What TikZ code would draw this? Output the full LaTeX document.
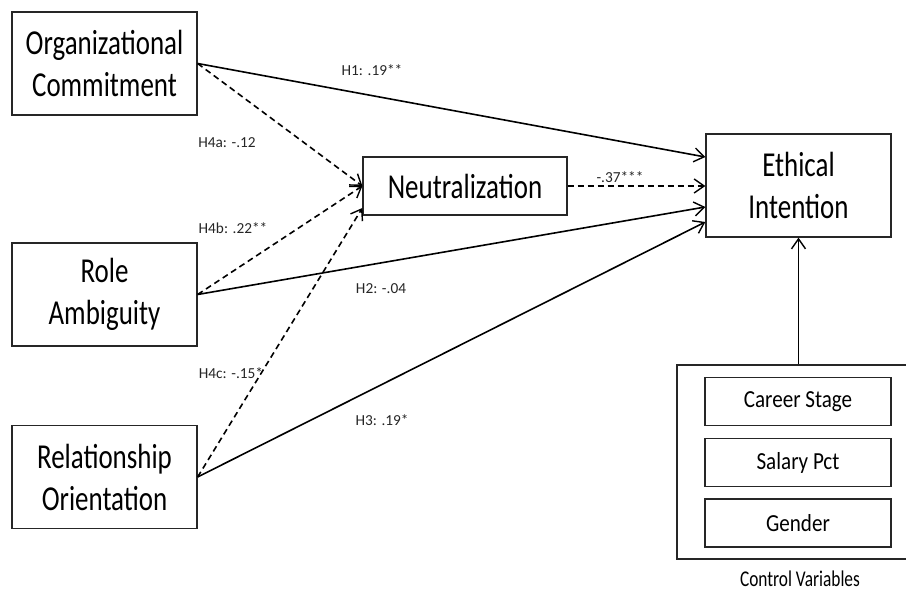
\documentclass[tikz,border=0pt]{standalone}
\usepackage{fontspec}
\setmainfont{Carlito}
\newfontfamily\boxfont[FakeStretch=0.77]{Carlito}
\newfontfamily\ctrlfont[FakeStretch=0.86]{Carlito}
\usetikzlibrary{calc}
\usetikzlibrary{arrows.meta}

\begin{document}
\begin{tikzpicture}[x=1pt,y=-1pt,
	var/.style={draw=black!85,line width=1.3pt,minimum width=185pt,minimum height=103pt,inner sep=0pt,align=center,font=\boxfont\fontsize{35}{42}\selectfont},
	ctrl/.style={draw=black!85,line width=1.2pt,minimum width=186pt,minimum height=48pt,inner sep=0pt,font=\ctrlfont\fontsize{24.5}{29}\selectfont},
	link/.style={line width=1.6pt,-{Straight Barb[length=10pt,width=14pt,line width=1.4pt]}},
	dlink/.style={link,dash pattern=on 6pt off 4pt},
	coef/.style={font=\fontsize{15.3}{18}\selectfont,text=black!85,inner sep=0pt}]
	\useasboundingbox (0,0) rectangle (906,593);
	\clip (0,0) rectangle (906,593);
	% constructs
	\node[var] (oc) at (104.5,63.5) {Organizational\\Commitment};
	\node[var] (ra) at (104.5,294.5) {Role\\Ambiguity};
	\node[var] (ro) at (104.5,477) {Relationship\\Orientation};
	\node[var,minimum width=204pt,minimum height=58pt] (neut) at (465,186) {Neutralization};
	\node[var] (ei) at (798.5,185.5) {Ethical\\Intention};
	% controls
	\node[draw=black!85,line width=1.2pt,minimum width=253pt,minimum height=194pt] (ctrlbox) at (803.5,462) {};
	\node[ctrl] (career) at (798,401.5) {Career Stage};
	\node[ctrl] (salary) at (798,462.5) {Salary Pct};
	\node[ctrl] (gender) at (798,523) {Gender};
	\node[font=\boxfont\fontsize{22.5}{26}\selectfont,inner sep=0pt] (ctrllabel) at (800,579) {Control Variables};
	% paths
	\draw[link] (oc.east) -- ($(ei.west)+(0,-28.5)$);
	\draw[dlink] (oc.east) -- (neut.west);
	\draw[dlink] (ra.east) -- (neut.west);
	\draw[link] (ra.east) -- ($(ei.west)+(0,21.5)$);
	\draw[dlink] (ro.east) -- ($(neut.west)+(0,22)$);
	\draw[link] (ro.east) -- ($(ei.west)+(0,36.5)$);
	\draw[dlink] (neut.east) -- (neut.east -| ei.west);
	\draw[link] (ei.south |- ctrlbox.north) -- (ei.south);
	% coefficients
	\node[coef] (h1) at (372,70) {H1: .19**};
	\node[coef] (h4a) at (227,143) {H4a: -.12};
	\node[coef] (h4b) at (233,228) {H4b: .22**};
	\node[coef] (h2) at (381,289) {H2: -.04};
	\node[coef] (h4c) at (231,373) {H4c: -.15*};
	\node[coef] (h3) at (382,420) {H3: .19*};
	\node[coef] (h5) at (620,177) {-.37***};
\end{tikzpicture}
\end{document}
